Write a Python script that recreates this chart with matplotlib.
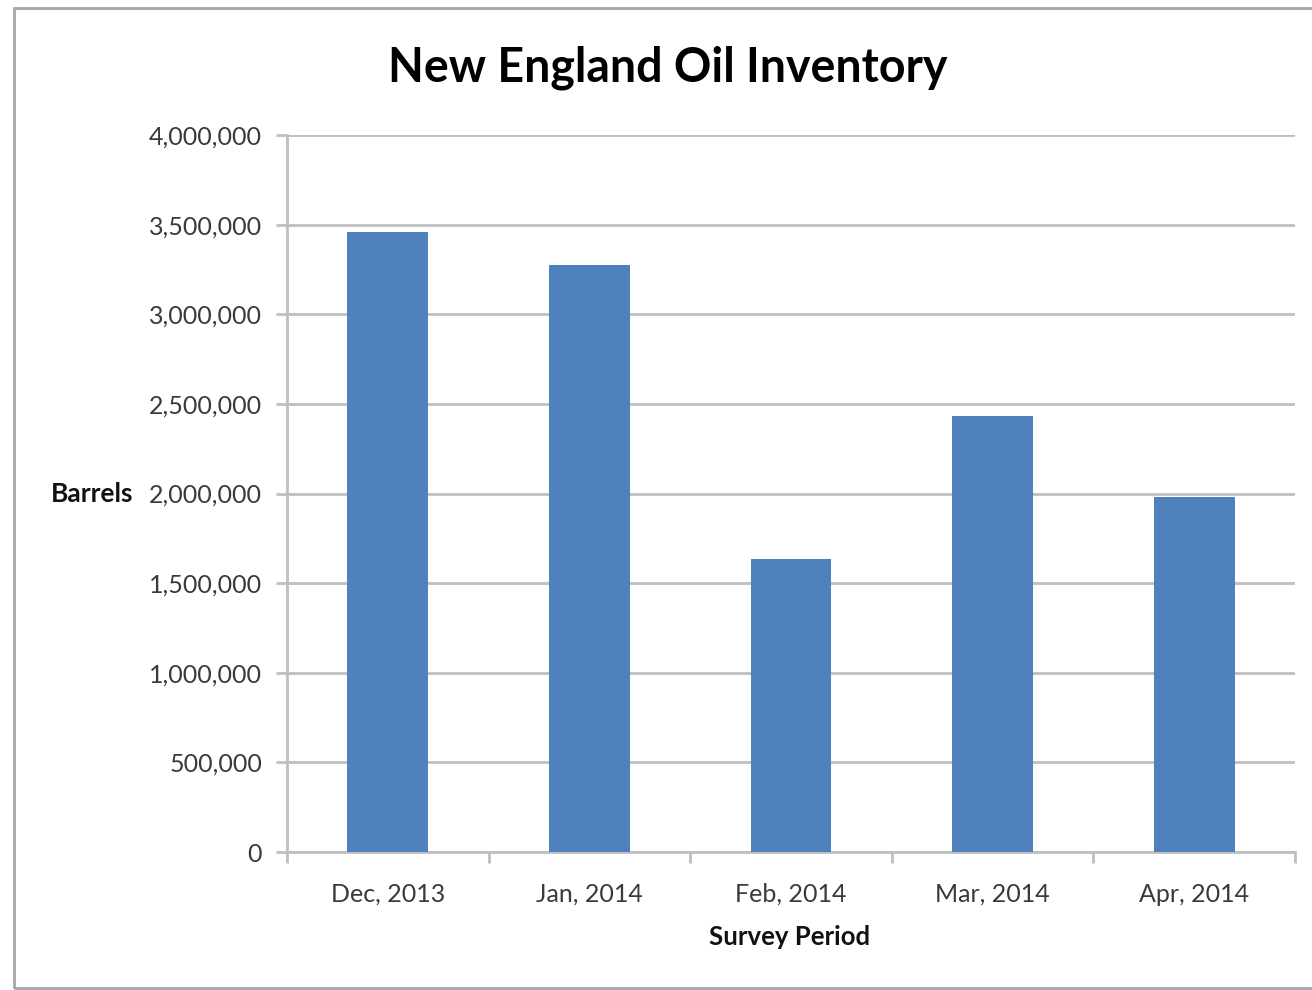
import matplotlib.pyplot as plt
from matplotlib.patches import Rectangle
from matplotlib.ticker import FuncFormatter, FixedLocator

periods = ["Dec, 2013", "Jan, 2014", "Feb, 2014", "Mar, 2014", "Apr, 2014"]
barrels = [3460000, 3275000, 1635000, 2432000, 1980000]
yticks = [0, 500000, 1000000, 1500000, 2000000, 2500000, 3000000, 3500000, 4000000]

plt.rcParams['font.family'] = ['Lato', 'DejaVu Sans']

fig = plt.figure(figsize=(13.12, 9.9), dpi=100)
ax = fig.add_axes([287 / 1312, 1 - 852 / 990, 1008 / 1312, 717 / 990])

x = list(range(len(periods)))
ax.bar(x, barrels, width=0.4, color='#4f81bd', zorder=3)

ax.set_xlim(-0.5, len(periods) - 0.5)
ax.set_ylim(0, 4000000)
ax.set_yticks(yticks)
ax.yaxis.set_major_formatter(FuncFormatter(lambda v, p: f"{int(v):,}"))
ax.yaxis.grid(True, color='#bfbfbf', linewidth=2, zorder=0)

ax.set_xticks(x)
ax.set_xticklabels(periods)
ax.xaxis.set_minor_locator(FixedLocator([i - 0.5 for i in range(len(periods) + 1)]))
ax.tick_params(axis='x', which='major', length=0, pad=22, labelsize=18, labelcolor='#3a3a3a')
ax.tick_params(axis='x', which='minor', length=8, width=2, color='#bfbfbf')
ax.tick_params(axis='y', length=8, width=2, color='#bfbfbf', pad=10, labelsize=18, labelcolor='#3a3a3a')

for s in ['top', 'right']:
    ax.spines[s].set_visible(False)
for s in ['left', 'bottom']:
    ax.spines[s].set_color('#bfbfbf')
    ax.spines[s].set_linewidth(2)

fig.text(668 / 1312, 1 - 68 / 990, "New England Oil Inventory", ha='center', va='center',
         fontsize=33.5, fontweight='bold', color='black')
fig.text(92 / 1312, 1 - 494 / 990, "Barrels", ha='center', va='center',
         fontsize=19, fontweight='bold', color='#111111')
fig.text(790 / 1312, 1 - 937 / 990, "Survey Period", ha='center', va='center',
         fontsize=18.5, fontweight='bold', color='#111111')

fig.patches.append(Rectangle((14 / 1312, 2 / 990), 1.1, 1 - 10 / 990, transform=fig.transFigure,
                             fill=False, edgecolor='#a6a6a6', linewidth=2))

fig.savefig("out.png", dpi=100)
